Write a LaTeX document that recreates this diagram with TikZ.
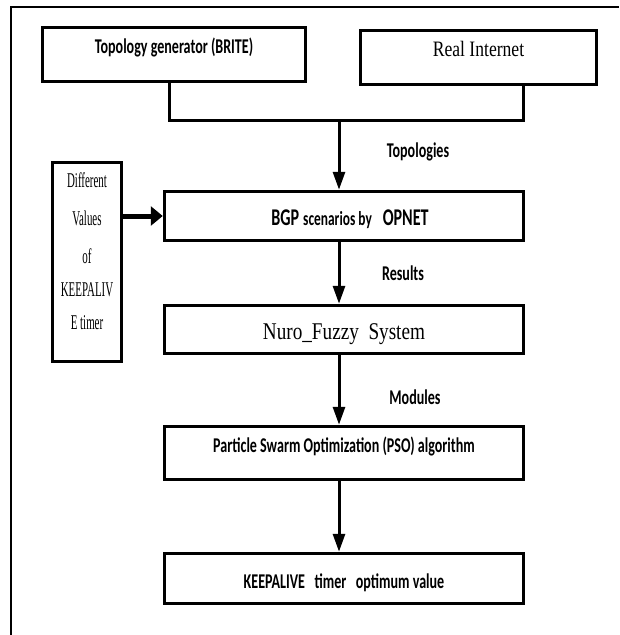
\documentclass[tikz,border=0pt]{standalone}
\usepackage{fontspec}
\setmainfont{Liberation Serif}[FakeStretch=0.8]
\newfontfamily\carlito{Carlito}[FakeStretch=0.67]
\newfontfamily\narrowserif{Liberation Serif}[FakeStretch=0.52]
\usetikzlibrary{arrows.meta}

\begin{document}
\begin{tikzpicture}[x=1pt, y=-1pt,
	box/.style={draw, line width=3.5pt, minimum width=359pt, text height=14pt, text depth=4pt, inner sep=0pt},
	sans/.style={font=\carlito\bfseries\fontsize{21}{24}\selectfont},
	serif/.style={font=\fontsize{22}{25}\selectfont},
	side/.style={font=\narrowserif\fontsize{21}{33}\selectfont, align=center},
	link/.style={line width=3pt},
	flow/.style={line width=3pt, -{Triangle[length=18pt, width=12pt]}}]
	
	\useasboundingbox (0,0) rectangle (619,635);
	% outer frame (only top and left are visible)
	\draw[line width=1.5pt] (11,635) -- (11,7) -- (619,7);
	
	% sources
	\node[box, sans, minimum width=263pt, minimum height=54pt, text depth=16pt] (brite) at (174,54.5) {Topology generator (BRITE)};
	\node[box, serif, minimum width=236pt, minimum height=54pt, text depth=16pt] (real) at (478.5,57.5) {Real\ Internet};
	
	% main chain
	\node[box, sans, minimum height=49pt, text height=23pt] (bgp) at (344,216) {\fontsize{24}{26}\selectfont\hspace{12pt}BGP\,{\fontsize{20}{22}\selectfont scenarios\ by}\ \ \ OPNET};
	\node[box, serif, font=\fontsize{24}{26}\selectfont, minimum height=48pt, text height=23pt] (nuro) at (344,329.5) {Nuro\_Fuzzy\ \ System};
	\node[box, sans, minimum height=53pt, text depth=15pt] (pso) at (344,453) {Particle Swarm Optimization (PSO) algorithm};
	\node[box, sans, minimum height=50pt, text height=24pt] (keep) at (344,578.5) {KEEPALIVE\ \ \ timer\ \ \ optimum value};
	
	% side input
	\node[box, minimum width=69pt, minimum height=199pt,
		label={[side, anchor=north, yshift=-8pt]north:Different\\[5pt]Values\\[5pt]of\\KEEPALIV\\E timer}] (diff) at (87,262) {};
	
	% joining the two sources
	\coordinate (jl) at (169,120);
	\coordinate (jr) at (523,120);
	\coordinate (jm) at (339,120);
	\draw[link] (brite.south -| jl) -- (jl) -- (jr) -- (real.south -| jr);
	
	% arrows
	\draw[flow] (jm) -- (jm |- bgp.north);
	\draw[line width=5pt, -{Triangle[length=12pt, width=19pt]}] (diff.east |- bgp.west) -- (bgp.west);
	\draw[flow] (bgp.south -| jm) -- (nuro.north -| jm);
	\draw[flow] (nuro.south -| jm) -- (pso.north -| jm);
	\draw[flow] (pso.south -| jm) -- (keep.north -| jm);
	
	% arrow texts
	\node[sans] (topo) at (418,152) {Topologies};
	\node[sans] (res) at (403,273) {Results};
	\node[sans] (mods) at (415,397) {Modules};
	
\end{tikzpicture}
\end{document}
